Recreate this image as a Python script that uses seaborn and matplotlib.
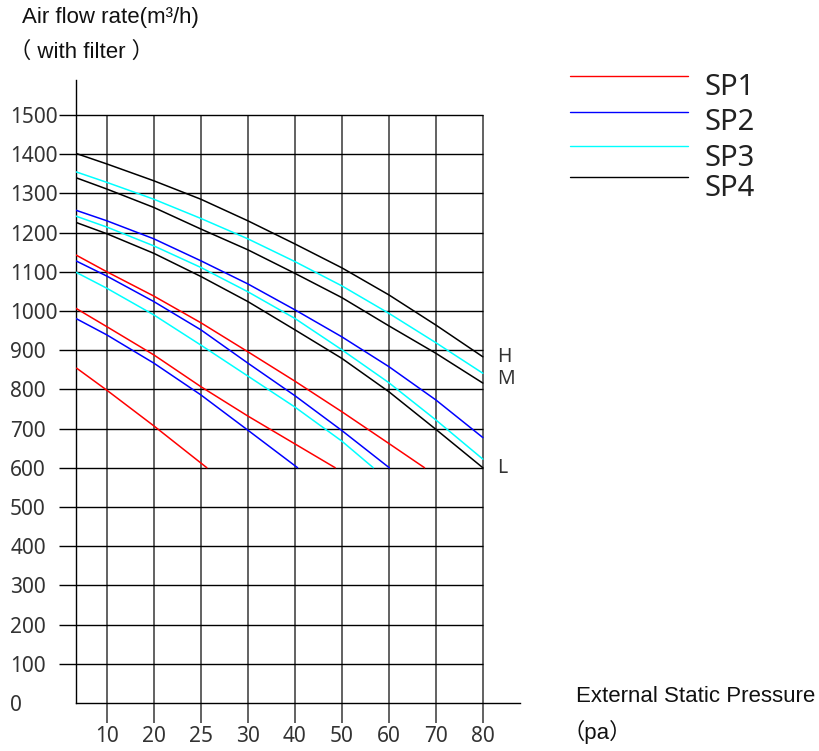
import numpy as np
import pandas as pd
import matplotlib
matplotlib.use("Agg")
import matplotlib.pyplot as plt
from matplotlib.lines import Line2D
import seaborn as sns

# Pressure tick labels (pa); gridlines are evenly spaced, one slot per label
pressure_labels = ["10", "20", "25", "30", "40", "50", "60", "70", "80"]
flow_ticks = list(range(0, 1600, 100))

# Curve sample positions along the pressure axis, in tick-slot units
slots_full = [-0.66, 0, 1, 2, 3, 4, 5, 6, 7, 8]

sp4_h = [1402, 1375, 1332, 1285, 1230, 1171, 1110, 1041, 964, 883]
sp4_m = [1340, 1311, 1264, 1209, 1156, 1096, 1034, 962, 892, 816]
sp4_l = [1226, 1197, 1147, 1088, 1024, 952, 879, 794, 698, 600]

sp3_h = [1355, 1328, 1285, 1236, 1184, 1126, 1064, 994, 919, 841]
sp3_m = [1242, 1214, 1166, 1111, 1049, 981, 901, 817, 722, 622]
sp3_l_x = [-0.66, 0, 1, 2, 3, 4, 5, 5.67]
sp3_l = [1099, 1058, 990, 913, 834, 755, 668, 600]

sp2_h = [1257, 1230, 1184, 1128, 1069, 1003, 934, 858, 773, 677]
sp2_m_x = [-0.66, 0, 1, 2, 3, 4, 5, 6.01]
sp2_m = [1128, 1089, 1024, 952, 867, 784, 695, 600]
sp2_l_x = [-0.66, 0, 1, 2, 3, 4.06]
sp2_l = [981, 939, 867, 786, 696, 600]

sp1_h_x = [-0.66, 0, 1, 2, 3, 4, 5, 6, 6.76]
sp1_h = [1143, 1100, 1038, 970, 896, 821, 743, 662, 600]
sp1_m_x = [-0.66, 0, 1, 2, 3, 4, 4.86]
sp1_m = [1007, 960, 888, 807, 732, 661, 600]
sp1_l_x = [-0.64, 0, 1, 2.13]
sp1_l = [854, 798, 707, 600]

series_names = ["SP1", "SP2", "SP3", "SP4"]
series_colors = ["#ff0000", "#0000ff", "#00ffff", "#000000"]
speed_marks = {"H": 883, "M": 827, "L": 600}

curves = [
    ("SP1", "H", sp1_h_x, sp1_h), ("SP1", "M", sp1_m_x, sp1_m), ("SP1", "L", sp1_l_x, sp1_l),
    ("SP2", "H", slots_full, sp2_h), ("SP2", "M", sp2_m_x, sp2_m), ("SP2", "L", sp2_l_x, sp2_l),
    ("SP3", "H", slots_full, sp3_h), ("SP3", "M", slots_full, sp3_m), ("SP3", "L", sp3_l_x, sp3_l),
    ("SP4", "H", slots_full, sp4_h), ("SP4", "M", slots_full, sp4_m), ("SP4", "L", slots_full, sp4_l),
]
rows = []
for name, speed, xs, ys in curves:
    for x, y in zip(xs, ys):
        rows.append({"series": name, "speed": speed, "slot": x, "flow": y})
df = pd.DataFrame(rows)

sns.set_theme(style="white")
plt.rcParams["font.family"] = ["Noto Sans", "Noto Sans CJK SC"]

W, H = 820, 751
fig = plt.figure(figsize=(W / 100, H / 100), dpi=100)
x_left, x_right = 75.7, 520.0
y_bottom, y_top = 703.0, 80.0
ax = fig.add_axes([x_left / W, 1 - y_bottom / H, (x_right - x_left) / W, (y_bottom - y_top) / H])

ax.set_xlim(-0.66, 8.79)
ax.set_ylim(0, 1589)

# grid: vertical lines at each pressure slot, horizontal at every 100 m3/h
ax.vlines(range(len(pressure_labels)), 0, 1500, color="#555555", lw=1.3, zorder=1)
ax.hlines(flow_ticks[1:], -0.66, 8, color="#000000", lw=1.0, zorder=1)

sns.lineplot(data=df, x="slot", y="flow", hue="series", units="speed",
             estimator=None, sort=False, palette=dict(zip(series_names, series_colors)),
             hue_order=series_names, legend=False, lw=1.1, ax=ax, zorder=3)

for side in ["top", "right"]:
    ax.spines[side].set_visible(False)
for side in ["left", "bottom"]:
    ax.spines[side].set_color("#000000")
    ax.spines[side].set_linewidth(1.0)

ax.set_xlabel("")
ax.set_ylabel("")
ax.set_xticks(range(len(pressure_labels)))
ax.set_xticklabels(pressure_labels)
ax.set_yticks(flow_ticks)
ax.set_yticklabels([str(v) for v in flow_ticks])
ax.tick_params(axis="x", direction="out", length=14.4, width=1.3, color="#555555",
               pad=2.5, labelsize=15, labelcolor="#333333", bottom=True)
ax.tick_params(axis="y", direction="out", length=12.2, width=1.0, color="#000000",
               pad=35, labelsize=15, labelcolor="#333333", left=True)
for lab in ax.get_yticklabels():
    lab.set_horizontalalignment("left")
ax.yaxis.get_major_ticks()[0].tick1line.set_visible(False)

for speed, val in speed_marks.items():
    ax.text(8.3, val, speed, fontsize=14, color="#333333", va="center", ha="left")

title_font = ["Liberation Sans", "Noto Sans CJK SC"]
fig.text(22 / W, 1 - 18 / H, "Air flow rate(m³/h)", family=title_font, fontsize=16,
         color="#111111", va="center", ha="left")
fig.text(9 / W, 1 - 52 / H, "（ with filter ）", family=title_font, fontsize=16,
         color="#111111", va="center", ha="left")
fig.text(576 / W, 1 - 697 / H, "External Static Pressure", family=title_font, fontsize=16,
         color="#111111", va="center", ha="left")
fig.text(563 / W, 1 - 732 / H, "（pa）", family=title_font, fontsize=16,
         color="#111111", va="center", ha="left")

# legend: coloured strokes with the series name set just below-right
legend_line_y = [75.7, 111.7, 146.0, 176.7]
legend_text_y = [87.5, 123.0, 158.5, 188.5]
for name, color, ly, ty in zip(series_names, series_colors, legend_line_y, legend_text_y):
    fig.add_artist(Line2D([570 / W, 688 / W], [1 - ly / H, 1 - ly / H],
                          color=color, lw=1.0, transform=fig.transFigure))
    fig.text(705 / W, 1 - ty / H, name, fontsize=21, color="#222222",
             va="center", ha="left")

fig.savefig("out.png", dpi=100)
